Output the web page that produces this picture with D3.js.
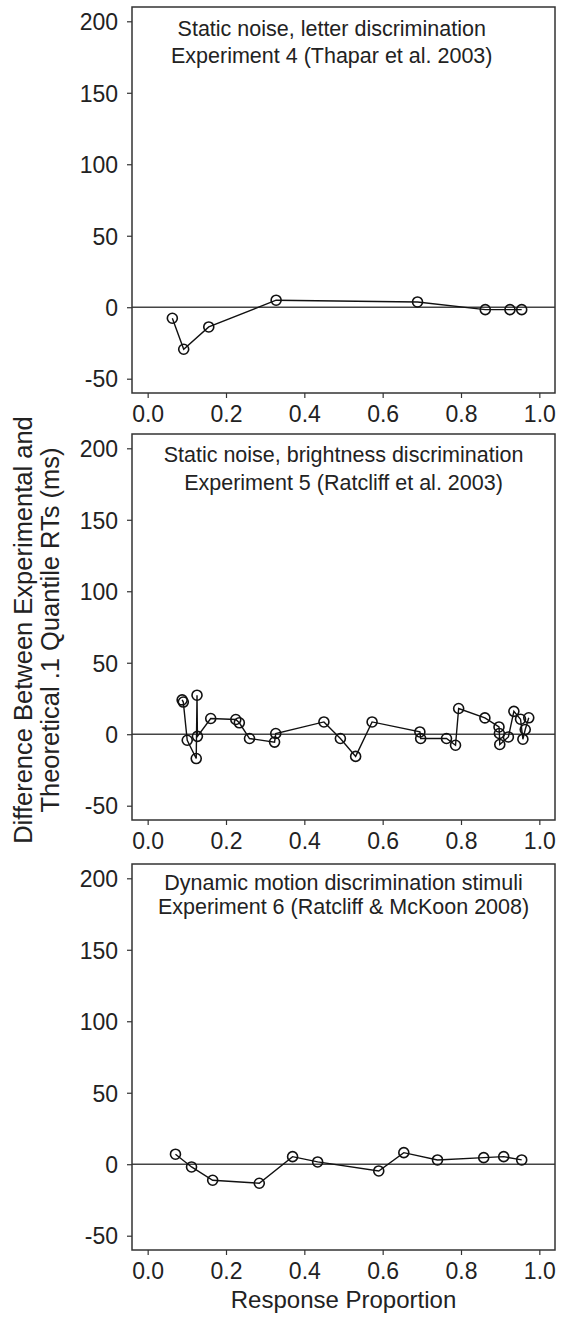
<!DOCTYPE html>
<html>
<head>
<meta charset="utf-8">
<script src="https://d3js.org/d3.v7.min.js"></script>
<style>
  body { margin: 0; background: #fff; }
  svg text { font-family: "Liberation Sans", Arial, Helvetica, sans-serif; fill: #222; }
</style>
</head>
<body>
<div id="chart"></div>
<script>
// Panel titles (two lines each)
var titles = [
  ["Static noise, letter discrimination", "Experiment 4 (Thapar et al. 2003)"],
  ["Static noise, brightness discrimination", "Experiment 5 (Ratcliff et al. 2003)"],
  ["Dynamic motion discrimination stimuli", "Experiment 6 (Ratcliff & McKoon 2008)"]
];

// Experiment 4: response proportion vs difference (ms)
var exp4X = [0.063, 0.092, 0.156, 0.328, 0.689, 0.862, 0.925, 0.955];
var exp4Y = [-7.7, -29.4, -13.8, 4.9, 3.7, -1.7, -1.7, -1.7];

// Experiment 5
var exp5X = [0.088, 0.091, 0.101, 0.124, 0.126, 0.127, 0.161, 0.225, 0.234, 0.260,
             0.324, 0.327, 0.450, 0.492, 0.531, 0.573, 0.695, 0.697, 0.763, 0.786,
             0.794, 0.861, 0.897, 0.898, 0.899, 0.921, 0.935, 0.952, 0.958, 0.964, 0.973];
var exp5Y = [24, 22.5, -4.2, -17, 27.3, -1.5, 11, 10.3, 8, -3,
             -5.5, 0.5, 8.6, -3, -15.5, 8.6, 1.6, -3, -3, -7.7,
             18, 11.4, 5.1, 0.5, -7.2, -1.9, 16, 10.5, -3.5, 3.3, 11.5];

// Experiment 6
var exp6X = [0.071, 0.112, 0.166, 0.285, 0.370, 0.434, 0.590, 0.654, 0.740, 0.858, 0.909, 0.955];
var exp6Y = [7.0, -1.9, -11.2, -13.3, 5.3, 1.6, -4.7, 8.1, 3.0, 4.6, 5.3, 3.0];

// Tick labels
var xTicks = [0, 0.2, 0.4, 0.6, 0.8, 1.0];
var yTicks = [-50, 0, 50, 100, 150, 200];

var series = [
  { x: exp4X, y: exp4Y },
  { x: exp5X, y: exp5Y },
  { x: exp6X, y: exp6Y }
];

// Layout
var svgWidth = 563;
var svgHeight = 1317;
var plotLeft = 132;
var plotRight = 555;
var panelTops = [7, 434, 864];
var panelHeight = 386;
var titleCenter = [0.47, 0.5, 0.5];
var titleOffset = [29, 28, 26];
var titleGap = [27, 28, 24];

var svg = d3.select("#chart")
  .append("svg")
  .attr("width", svgWidth)
  .attr("height", svgHeight);

svg.append("rect")
  .attr("width", svgWidth)
  .attr("height", svgHeight)
  .attr("fill", "#fff");

var xScale = d3.scaleLinear()
  .domain([-0.04, 1.04])
  .range([plotLeft, plotRight]);

series.forEach(function(s, i) {
  var top = panelTops[i];
  var yScale = d3.scaleLinear()
    .domain([-60, 210])
    .range([top + panelHeight, top]);

  var g = svg.append("g");

  // axes (R style: plain hyphen for negatives)
  var leftAxis = d3.axisLeft(yScale)
    .tickValues(yTicks)
    .tickSize(5)
    .tickSizeOuter(0)
    .tickPadding(9)
    .tickFormat(d => String(d));

  var bottomAxis = d3.axisBottom(xScale)
    .tickValues(xTicks)
    .tickSize(5)
    .tickSizeOuter(0)
    .tickPadding(8)
    .tickFormat(d => d.toFixed(1));

  var ya = g.append("g")
    .attr("transform", `translate(${plotLeft}, 0)`)
    .call(leftAxis);
  var xa = g.append("g")
    .attr("transform", `translate(0, ${top + panelHeight})`)
    .call(bottomAxis);

  [ya, xa].forEach(function(a) {
    a.select(".domain").remove();
    a.selectAll(".tick line").attr("stroke", "#333").attr("stroke-width", 1.2);
    a.selectAll(".tick text")
      .style("font-size", "23px")
      .attr("fill", "#222");
  });
  ya.selectAll(".tick text").attr("dy", "0.36em");

  // zero reference line
  g.append("line")
    .attr("x1", plotLeft)
    .attr("x2", plotRight)
    .attr("y1", yScale(0))
    .attr("y2", yScale(0))
    .attr("stroke", "#444")
    .attr("stroke-width", 1.5);

  // data line
  var pts = s.x.map(function(d, j) { return [d, s.y[j]]; });
  var line = d3.line()
    .x(d => xScale(d[0]))
    .y(d => yScale(d[1]));

  g.append("path")
    .datum(pts)
    .attr("d", line)
    .attr("fill", "none")
    .attr("stroke", "#111")
    .attr("stroke-width", 1.4);

  g.selectAll("circle")
    .data(pts)
    .enter()
    .append("circle")
    .attr("cx", d => xScale(d[0]))
    .attr("cy", d => yScale(d[1]))
    .attr("r", 5)
    .attr("fill", "none")
    .attr("stroke", "#111")
    .attr("stroke-width", 1.6);

  // plot box
  g.append("rect")
    .attr("x", plotLeft)
    .attr("y", top)
    .attr("width", plotRight - plotLeft)
    .attr("height", panelHeight)
    .attr("fill", "none")
    .attr("stroke", "#333")
    .attr("stroke-width", 1.5);

  // panel title
  var cx = xScale(titleCenter[i]);
  titles[i].forEach(function(t, k) {
    g.append("text")
      .attr("x", cx)
      .attr("y", top + titleOffset[i] + k * titleGap[i])
      .attr("text-anchor", "middle")
      .style("font-size", "21.5px")
      .text(t);
  });
});

// Axis titles
var yTitle = svg.append("text")
  .attr("transform", "translate(32, 630) rotate(-90)")
  .attr("text-anchor", "middle")
  .style("font-size", "25.5px");
yTitle.append("tspan").attr("x", 0).attr("y", 0).text("Difference Between Experimental and");
yTitle.append("tspan").attr("x", 0).attr("y", 27).text("Theoretical .1 Quantile RTs (ms)");

svg.append("text")
  .attr("x", (plotLeft + plotRight) / 2)
  .attr("y", 1308)
  .attr("text-anchor", "middle")
  .style("font-size", "24px")
  .text("Response Proportion");
</script>
</body>
</html>
